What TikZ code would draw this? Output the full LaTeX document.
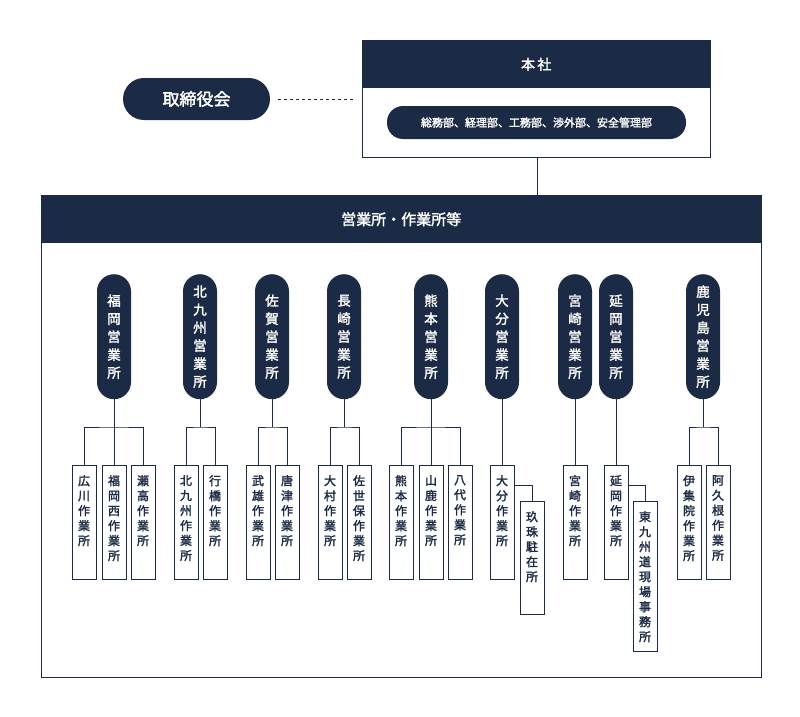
\documentclass[tikz,border=0pt]{standalone}
\usepackage{fontspec}
\setmainfont{Noto Sans CJK JP}[BoldFont={Noto Sans CJK JP}, FakeBold=2]
\definecolor{navy}{HTML}{1B2B45}
\tikzset{
 pill/.style={fill=navy,rounded corners=17pt,minimum width=34pt,minimum height=125pt,anchor=north,text=white,font=\fontsize{13.5}{18}\selectfont,align=center,inner sep=0pt},
 cbox/.style={draw=navy,line width=1pt,minimum width=24pt,anchor=north,inner sep=0pt},
 ctext/.style={anchor=north,text=navy,font=\fontsize{12}{15}\selectfont,align=center,inner sep=0pt},
 ln/.style={draw=navy,line width=1pt}
}
\newcommand\child[5]{% name, x, y, height, text
 \node[cbox,minimum height=#4pt] (#1) at (#2,#3) {};
 \node[ctext] (#1t) at (#2,#3+10) {#5};}
\begin{document}
\begin{tikzpicture}[x=1pt,y=-1pt]
\useasboundingbox (0,0) rectangle (800,717);
% head office
\node[draw=navy,line width=1pt,minimum width=348pt,minimum height=117pt,anchor=north west,inner sep=0pt] (hq) at (362,40) {};
\node[fill=navy,minimum width=348pt,minimum height=48pt,anchor=north west,text=white,font=\fontsize{14}{16}\selectfont] (hqh) at (362,40) {本\,社};
\node[fill=navy,rounded corners=16pt,minimum width=299pt,minimum height=33pt,text=white,font=\fontsize{11}{12}\selectfont] (dept) at (536.5,122.5) {総務部、経理部、工務部、渉外部、安全管理部};
\node[fill=navy,rounded corners=21pt,minimum width=147pt,minimum height=42pt,text=white,font=\fontsize{17}{18}\selectfont] (board) at (196.5,99) {取締役会};
\coordinate (bd) at (355,99);
\draw[navy,dashed,line width=0.8pt] (board.east)++(8,0) -- (bd);
% big box
\node[draw=navy,line width=1pt,minimum width=720pt,minimum height=482pt,anchor=north west,inner sep=0pt] (big) at (41,195) {};
\node[fill=navy,minimum width=720pt,minimum height=48pt,anchor=north west,text=white,font=\fontsize{15}{16}\selectfont] (bigh) at (41,195) {営業所・作業所等};
\draw[ln] (537,157) -- (537,195);
% offices
\foreach \n/\x/\t in {fk/114/{福\\岡\\営\\業\\所},kk/200/{北\\九\\州\\営\\業\\所},sg/272/{佐\\賀\\営\\業\\所},ns/344/{長\\崎\\営\\業\\所},km/431/{熊\\本\\営\\業\\所},oi/502/{大\\分\\営\\業\\所},mz/575/{宮\\崎\\営\\業\\所},no/616/{延\\岡\\営\\業\\所},kg/703/{鹿\\児\\島\\営\\業\\所}}
 \node[pill] (\n) at (\x,274) {\t};
% children
\child{fk1}{84}{465}{114}{広\\川\\作\\業\\所}
\child{fk2}{114}{465}{114}{福\\岡\\西\\作\\業\\所}
\child{fk3}{143}{465}{114}{瀬\\高\\作\\業\\所}
\child{kk1}{186}{465}{114}{北\\九\\州\\作\\業\\所}
\child{kk2}{215}{465}{114}{行\\橋\\作\\業\\所}
\child{sg1}{258}{465}{114}{武\\雄\\作\\業\\所}
\child{sg2}{287}{465}{114}{唐\\津\\作\\業\\所}
\child{ns1}{330}{465}{114}{大\\村\\作\\業\\所}
\child{ns2}{359}{465}{114}{佐\\世\\保\\作\\業\\所}
\child{km1}{401}{465}{114}{熊\\本\\作\\業\\所}
\child{km2}{431}{465}{114}{山\\鹿\\作\\業\\所}
\child{km3}{460}{465}{114}{八\\代\\作\\業\\所}
\child{oi1}{502}{465}{114}{大\\分\\作\\業\\所}
\child{oi2}{532}{501}{113}{玖\\珠\\駐\\在\\所}
\child{mz1}{575}{465}{114}{宮\\崎\\作\\業\\所}
\child{no1}{616}{465}{114}{延\\岡\\作\\業\\所}
\child{no2}{645}{501}{150}{東\\九\\州\\道\\現\\場\\事\\務\\所}
\child{kg1}{689}{465}{114}{伊\\集\\院\\作\\業\\所}
\child{kg2}{718}{465}{114}{阿\\久\\根\\作\\業\\所}
% connectors
\draw[ln] (fk.south) -- (fk2.north);
\draw[ln] (fk1.north) |- (fk.south |- 0,427) -| (fk3.north);
\draw[ln] (kk.south) -- (kk.south |- 0,427);
\draw[ln] (kk1.north) |- (kk.south |- 0,427) -| (kk2.north);
\draw[ln] (sg.south) -- (sg.south |- 0,427);
\draw[ln] (sg1.north) |- (sg.south |- 0,427) -| (sg2.north);
\draw[ln] (ns.south) -- (ns.south |- 0,427);
\draw[ln] (ns1.north) |- (ns.south |- 0,427) -| (ns2.north);
\draw[ln] (km.south) -- (km2.north);
\draw[ln] (km1.north) |- (km.south |- 0,427) -| (km3.north);
\draw[ln] (oi.south) -- (oi1.north);
\draw[ln] (oi1.east |- 0,485) -| (oi2.north);
\draw[ln] (mz.south) -- (mz1.north);
\draw[ln] (no.south) -- (no1.north);
\draw[ln] (no1.east |- 0,485) -| (no2.north);
\draw[ln] (kg.south) -- (kg.south |- 0,427);
\draw[ln] (kg1.north) |- (kg.south |- 0,427) -| (kg2.north);
\end{tikzpicture}
\end{document}
